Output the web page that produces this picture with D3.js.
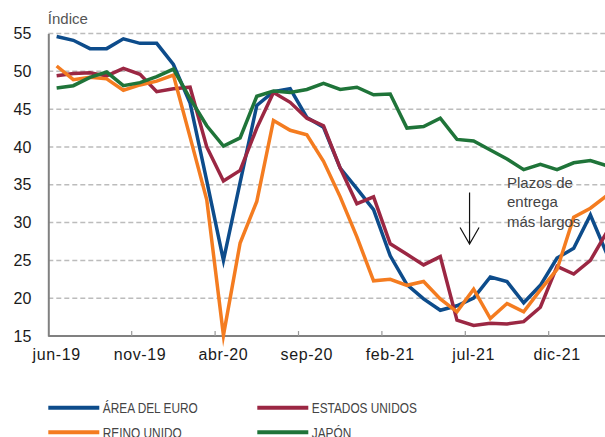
<!DOCTYPE html>
<html>
<head>
<meta charset="utf-8">
<script src="https://cdn.jsdelivr.net/npm/d3@7"></script>
<style>
    body { margin: 0; background: #fff; }
    svg { display: block; font-family: "Liberation Sans", Arial, Helvetica, sans-serif; }
</style>
</head>
<body>
<div class="chart"></div>
<script>
// Months on the x axis (jun-19 .. mar-22)
const months = ["jun-19", "jul-19", "ago-19", "sep-19", "oct-19", "nov-19", "dic-19",
    "ene-20", "feb-20", "mar-20", "abr-20", "may-20", "jun-20", "jul-20", "ago-20", "sep-20",
    "oct-20", "nov-20", "dic-20", "ene-21", "feb-21", "mar-21", "abr-21", "may-21", "jun-21",
    "jul-21", "ago-21", "sep-21", "oct-21", "nov-21", "dic-21", "ene-22", "feb-22", "mar-22"];

// Labelled months and y ticks
const xTickLabels = ["jun-19", "nov-19", "abr-20", "sep-20", "feb-21", "jul-21", "dic-21"];
const yTicks = [15, 20, 25, 30, 35, 40, 45, 50, 55];

// Series values (index)
const euroArea = [54.6, 54.1, 53.0, 53.0, 54.3, 53.7, 53.7, 50.9, 45.8, 35.5, 25.0, 35.3,
    45.5, 47.3, 47.7, 43.9, 42.6, 37.2, 34.5, 31.7, 25.6, 21.8, 19.9, 18.4, 19.0, 20.0,
    22.8, 22.2, 19.4, 21.7, 25.3, 26.6, 31.0, 25.8];
const unitedStates = [49.4, 49.7, 49.8, 49.4, 50.4, 49.6, 47.3, 47.7, 47.9, 40.0, 35.5, 36.9,
    42.5, 47.2, 45.9, 43.8, 42.8, 37.2, 32.5, 33.4, 27.2, 25.8, 24.4, 25.5, 17.1, 16.4,
    16.7, 16.6, 16.9, 18.8, 24.2, 23.2, 25.0, 28.8];
const unitedKingdom = [50.7, 48.9, 49.2, 49.0, 47.5, 48.2, 48.7, 49.5, 41.3, 33.0, 15.1, 27.3,
    32.8, 43.5, 42.2, 41.6, 38.1, 33.4, 28.1, 22.3, 22.5, 21.7, 22.2, 19.9, 18.2, 21.2,
    17.3, 19.3, 18.2, 21.1, 23.8, 30.7, 31.9, 33.6];
const japan = [47.8, 48.1, 49.2, 49.9, 48.1, 48.5, 49.3, 50.3, 46.4, 42.8, 40.1, 41.2,
    46.7, 47.4, 47.2, 47.6, 48.4, 47.6, 47.9, 46.9, 47.0, 42.5, 42.7, 43.8, 41.0, 40.8,
    39.6, 38.4, 37.0, 37.7, 37.0, 37.9, 38.2, 37.5];

const series = [
    { name: "ÁREA DEL EURO", values: euroArea, color: "#0d4c8b" },
    { name: "ESTADOS UNIDOS", values: unitedStates, color: "#9b2743" },
    { name: "REINO UNIDO", values: unitedKingdom, color: "#f47c20" },
    { name: "JAPÓN", values: japan, color: "#1f7439" }
];

// Page and plot area
const W = 605, H = 437;
const plotLeft = 48.3, plotTop = 33.5, plotBottom = 336;
const bandW = 16.68;

const svg = d3.select(".chart")
    .append("svg")
    .attr("width", W)
    .attr("height", H);

// Scales
const x = d3.scaleBand()
    .domain(months)
    .range([plotLeft, plotLeft + months.length * bandW])
    .padding(0);

const y = d3.scaleLinear()
    .domain([15, 55])
    .range([plotBottom, plotTop]);

const cx = m => x(m) + x.bandwidth() / 2;

// Dashed gridlines
svg.append("g")
    .selectAll("line")
    .data(yTicks.filter(v => v > 15))
    .enter()
    .append("line")
        .attr("x1", plotLeft)
        .attr("x2", W)
        .attr("y1", d => y(d))
        .attr("y2", d => y(d))
        .attr("stroke", "#bcbcbc")
        .attr("stroke-width", 1.5)
        .attr("stroke-dasharray", "5,3");

// Y axis
const yAxis = svg.append("g")
    .attr("transform", `translate(${plotLeft},0)`)
    .call(d3.axisLeft(y).tickValues(yTicks).tickSize(0).tickPadding(17));
yAxis.select(".domain").attr("stroke", "#808080").attr("stroke-width", 2);
yAxis.selectAll("text")
    .attr("font-size", 16)
    .attr("fill", "#1a1a1a")
    .attr("font-family", "Liberation Sans, Arial, sans-serif");

// X axis: labels centred on the month, ticks at the month boundary
const xAxis = svg.append("g")
    .attr("transform", `translate(0,${plotBottom})`)
    .call(d3.axisBottom(x).tickValues(xTickLabels).tickSize(0).tickPadding(13));
xAxis.select(".domain")
    .attr("d", `M${plotLeft},0H${W}`)
    .attr("stroke", "#808080")
    .attr("stroke-width", 2);
xAxis.selectAll("text")
    .attr("font-size", 16)
    .attr("fill", "#1a1a1a")
    .attr("letter-spacing", 0.6)
    .attr("font-family", "Liberation Sans, Arial, sans-serif");

svg.append("g")
    .selectAll("line")
    .data(xTickLabels.slice(1))
    .enter()
    .append("line")
        .attr("x1", d => x(d))
        .attr("x2", d => x(d))
        .attr("y1", plotBottom)
        .attr("y2", plotBottom - 5)
        .attr("stroke", "#999")
        .attr("stroke-width", 1.2);

// Axis title
svg.append("text")
    .attr("x", plotLeft - 0.5)
    .attr("y", 24)
    .attr("font-size", 15)
    .attr("fill", "#555")
    .text("Índice");

// Lines
const line = d3.line()
    .x((d, i) => cx(months[i]))
    .y(d => y(d));

svg.append("g")
    .selectAll("path")
    .data(series)
    .enter()
    .append("path")
        .attr("d", d => line(d.values))
        .attr("fill", "none")
        .attr("stroke", d => d.color)
        .attr("stroke-width", 3.5)
        .attr("stroke-linejoin", "miter")
        .attr("stroke-miterlimit", 10);

// Annotation
const note = svg.append("text")
    .attr("font-size", 15)
    .attr("fill", "#444");
["Plazos de", "entrega", "más largos"].forEach((t, i) => {
    note.append("tspan")
        .attr("x", 507)
        .attr("y", 187.5 + i * 19.5)
        .text(t);
});

const arrowX = cx("jun-21") + 12.6;
svg.append("path")
    .attr("d", `M${arrowX},192.5V244M${arrowX - 9.5},227.5L${arrowX},244L${arrowX + 9.5},227.5`)
    .attr("fill", "none")
    .attr("stroke", "#111")
    .attr("stroke-width", 1.2);

// Legend, two columns
const legend = svg.append("g");
const legendItems = legend.selectAll("g")
    .data([series[0], series[1], series[2], series[3]])
    .enter()
    .append("g")
        .attr("transform", (d, i) => `translate(${i % 2 === 0 ? 48.3 : 257.3},${i < 2 ? 407.7 : 432.3})`);

legendItems.append("line")
    .attr("x1", 0)
    .attr("x2", 51)
    .attr("stroke", d => d.color)
    .attr("stroke-width", 4);

legendItems.append("text")
    .attr("transform", "translate(54.5,5.2) scale(0.79,1)")
    .attr("font-size", 15)
    .attr("fill", "#444")
    .text(d => d.name);
</script>
</body>
</html>
